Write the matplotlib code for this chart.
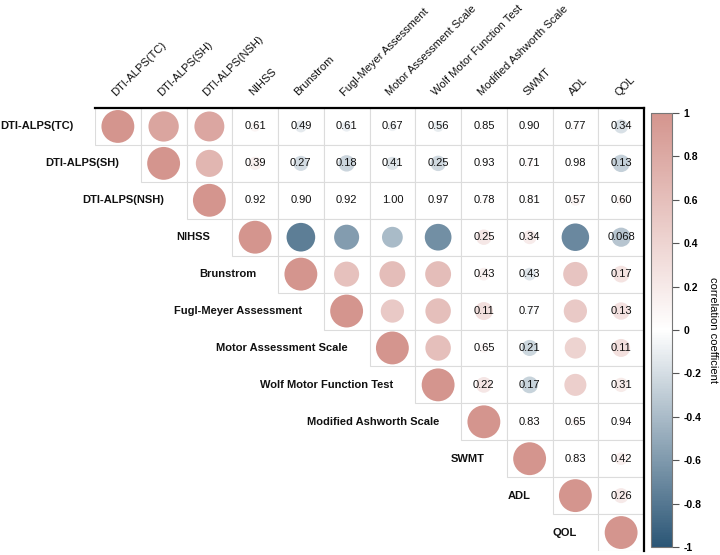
import numpy as np
import matplotlib
matplotlib.use("Agg")
import matplotlib.pyplot as plt
from matplotlib.colors import LinearSegmentedColormap
from matplotlib.patches import Rectangle

plt.rcParams['font.family'] = ['Liberation Sans', 'DejaVu Sans']

# Variable names (rows and columns are the same)
labels = ["DTI-ALPS(TC)", "DTI-ALPS(SH)", "DTI-ALPS(NSH)", "NIHSS", "Brunstrom",
          "Fugl-Meyer Assessment", "Motor Assessment Scale", "Wolf Motor Function Test",
          "Modified Ashworth Scale", "SWMT", "ADL", "QOL"]

# Correlation coefficients, upper triangle, row i starts at column i
r_rows = [
    [1.00, 0.85, 0.83, 0.10, -0.13, -0.10, -0.08, -0.11, 0.04, 0.02, 0.06, -0.18],
    [1.00, 0.68, 0.16, -0.21, -0.25, -0.16, -0.22, 0.02, 0.07, 0.01, -0.28],
    [1.00, 0.02, 0.02, 0.02, 0.00, 0.01, 0.05, 0.05, 0.11, 0.10],
    [1.00, -0.76, -0.58, -0.40, -0.66, 0.22, 0.18, -0.70, -0.34],
    [1.00, 0.58, 0.62, 0.62, 0.15, -0.15, 0.55, 0.26],
    [1.00, 0.50, 0.60, 0.30, -0.05, 0.50, 0.28],
    [1.00, 0.60, 0.09, -0.24, 0.42, 0.30],
    [1.00, 0.23, -0.26, 0.45, 0.19],
    [1.00, 0.04, 0.09, 0.01],
    [1.00, 0.04, 0.15],
    [1.00, 0.21],
    [1.00],
]

# p-values shown as text (None = significant, circle only)
p_rows = [
    [None, None, None, "0.61", "0.49", "0.61", "0.67", "0.56", "0.85", "0.90", "0.77", "0.34"],
    [None, None, "0.39", "0.27", "0.18", "0.41", "0.25", "0.93", "0.71", "0.98", "0.13"],
    [None, "0.92", "0.90", "0.92", "1.00", "0.97", "0.78", "0.81", "0.57", "0.60"],
    [None, None, None, None, None, "0.25", "0.34", None, "0.068"],
    [None, None, None, None, "0.43", "0.43", None, "0.17"],
    [None, None, None, "0.11", "0.77", None, "0.13"],
    [None, None, "0.65", "0.21", None, "0.11"],
    [None, "0.22", "0.17", None, "0.31"],
    [None, "0.83", "0.65", "0.94"],
    [None, "0.83", "0.42"],
    [None, "0.26"],
    [None],
]

n = len(labels)
cmap = LinearSegmentedColormap.from_list("corr", ["#2B5676", "#FFFFFF", "#D4958E"])

fig = plt.figure(figsize=(7.2, 5.55), dpi=100)
ax = fig.add_axes([95 / 720, 1 - 551 / 555, 549 / 720, 443 / 555])
ax.set_xlim(0, n)
ax.set_ylim(n, 0)
ax.axis('off')

xs, ys, rs = [], [], []
for i in range(n):
    for k, val in enumerate(r_rows[i]):
        j = i + k
        ax.add_patch(Rectangle((j, i), 1, 1, facecolor='white', edgecolor='#DCDCDC',
                               lw=0.8, zorder=1))
        xs.append(j + 0.5)
        ys.append(i + 0.5)
        rs.append(val)
        txt = p_rows[i][k]
        if txt is not None:
            ax.text(j + 0.5, i + 0.5, txt, ha='center', va='center', fontsize=8,
                    color='#111111', zorder=4)
    # row label left of the diagonal cell
    ax.text(i - 0.48, i + 0.5, labels[i], ha='right', va='center', fontsize=8,
            fontweight='bold', color='#111111')
    # column label on top
    ax.text(i + 0.48, -0.28, labels[i], ha='left', va='bottom', fontsize=8,
            rotation=45, rotation_mode='anchor', color='#111111')

rs = np.array(rs)
sc = ax.scatter(xs, ys, s=560 * np.abs(rs), c=rs, cmap=cmap, vmin=-1, vmax=1,
                linewidths=0, zorder=3)

# black frame on top and right
ax.plot([0, n], [0, 0], color='black', lw=1.6, zorder=5, clip_on=False)
ax.plot([n, n], [0, n], color='black', lw=1.6, zorder=5, clip_on=False)

cax = fig.add_axes([651 / 720, 1 - 547 / 555, 21 / 720, 434 / 555])
cb = fig.colorbar(sc, cax=cax, ticks=np.arange(-1, 1.01, 0.2))
cb.ax.set_yticklabels(["-1", "-0.8", "-0.6", "-0.4", "-0.2", "0", "0.2", "0.4",
                       "0.6", "0.8", "1"], fontsize=7.5, fontweight='bold')
cb.ax.tick_params(length=5, width=0.8, color='#555555')
cb.outline.set_edgecolor('#777777')
cb.outline.set_linewidth(0.8)
cb.set_label("correlation coefficient", rotation=270, fontsize=8, labelpad=12)

fig.savefig("out.png", dpi=100)
